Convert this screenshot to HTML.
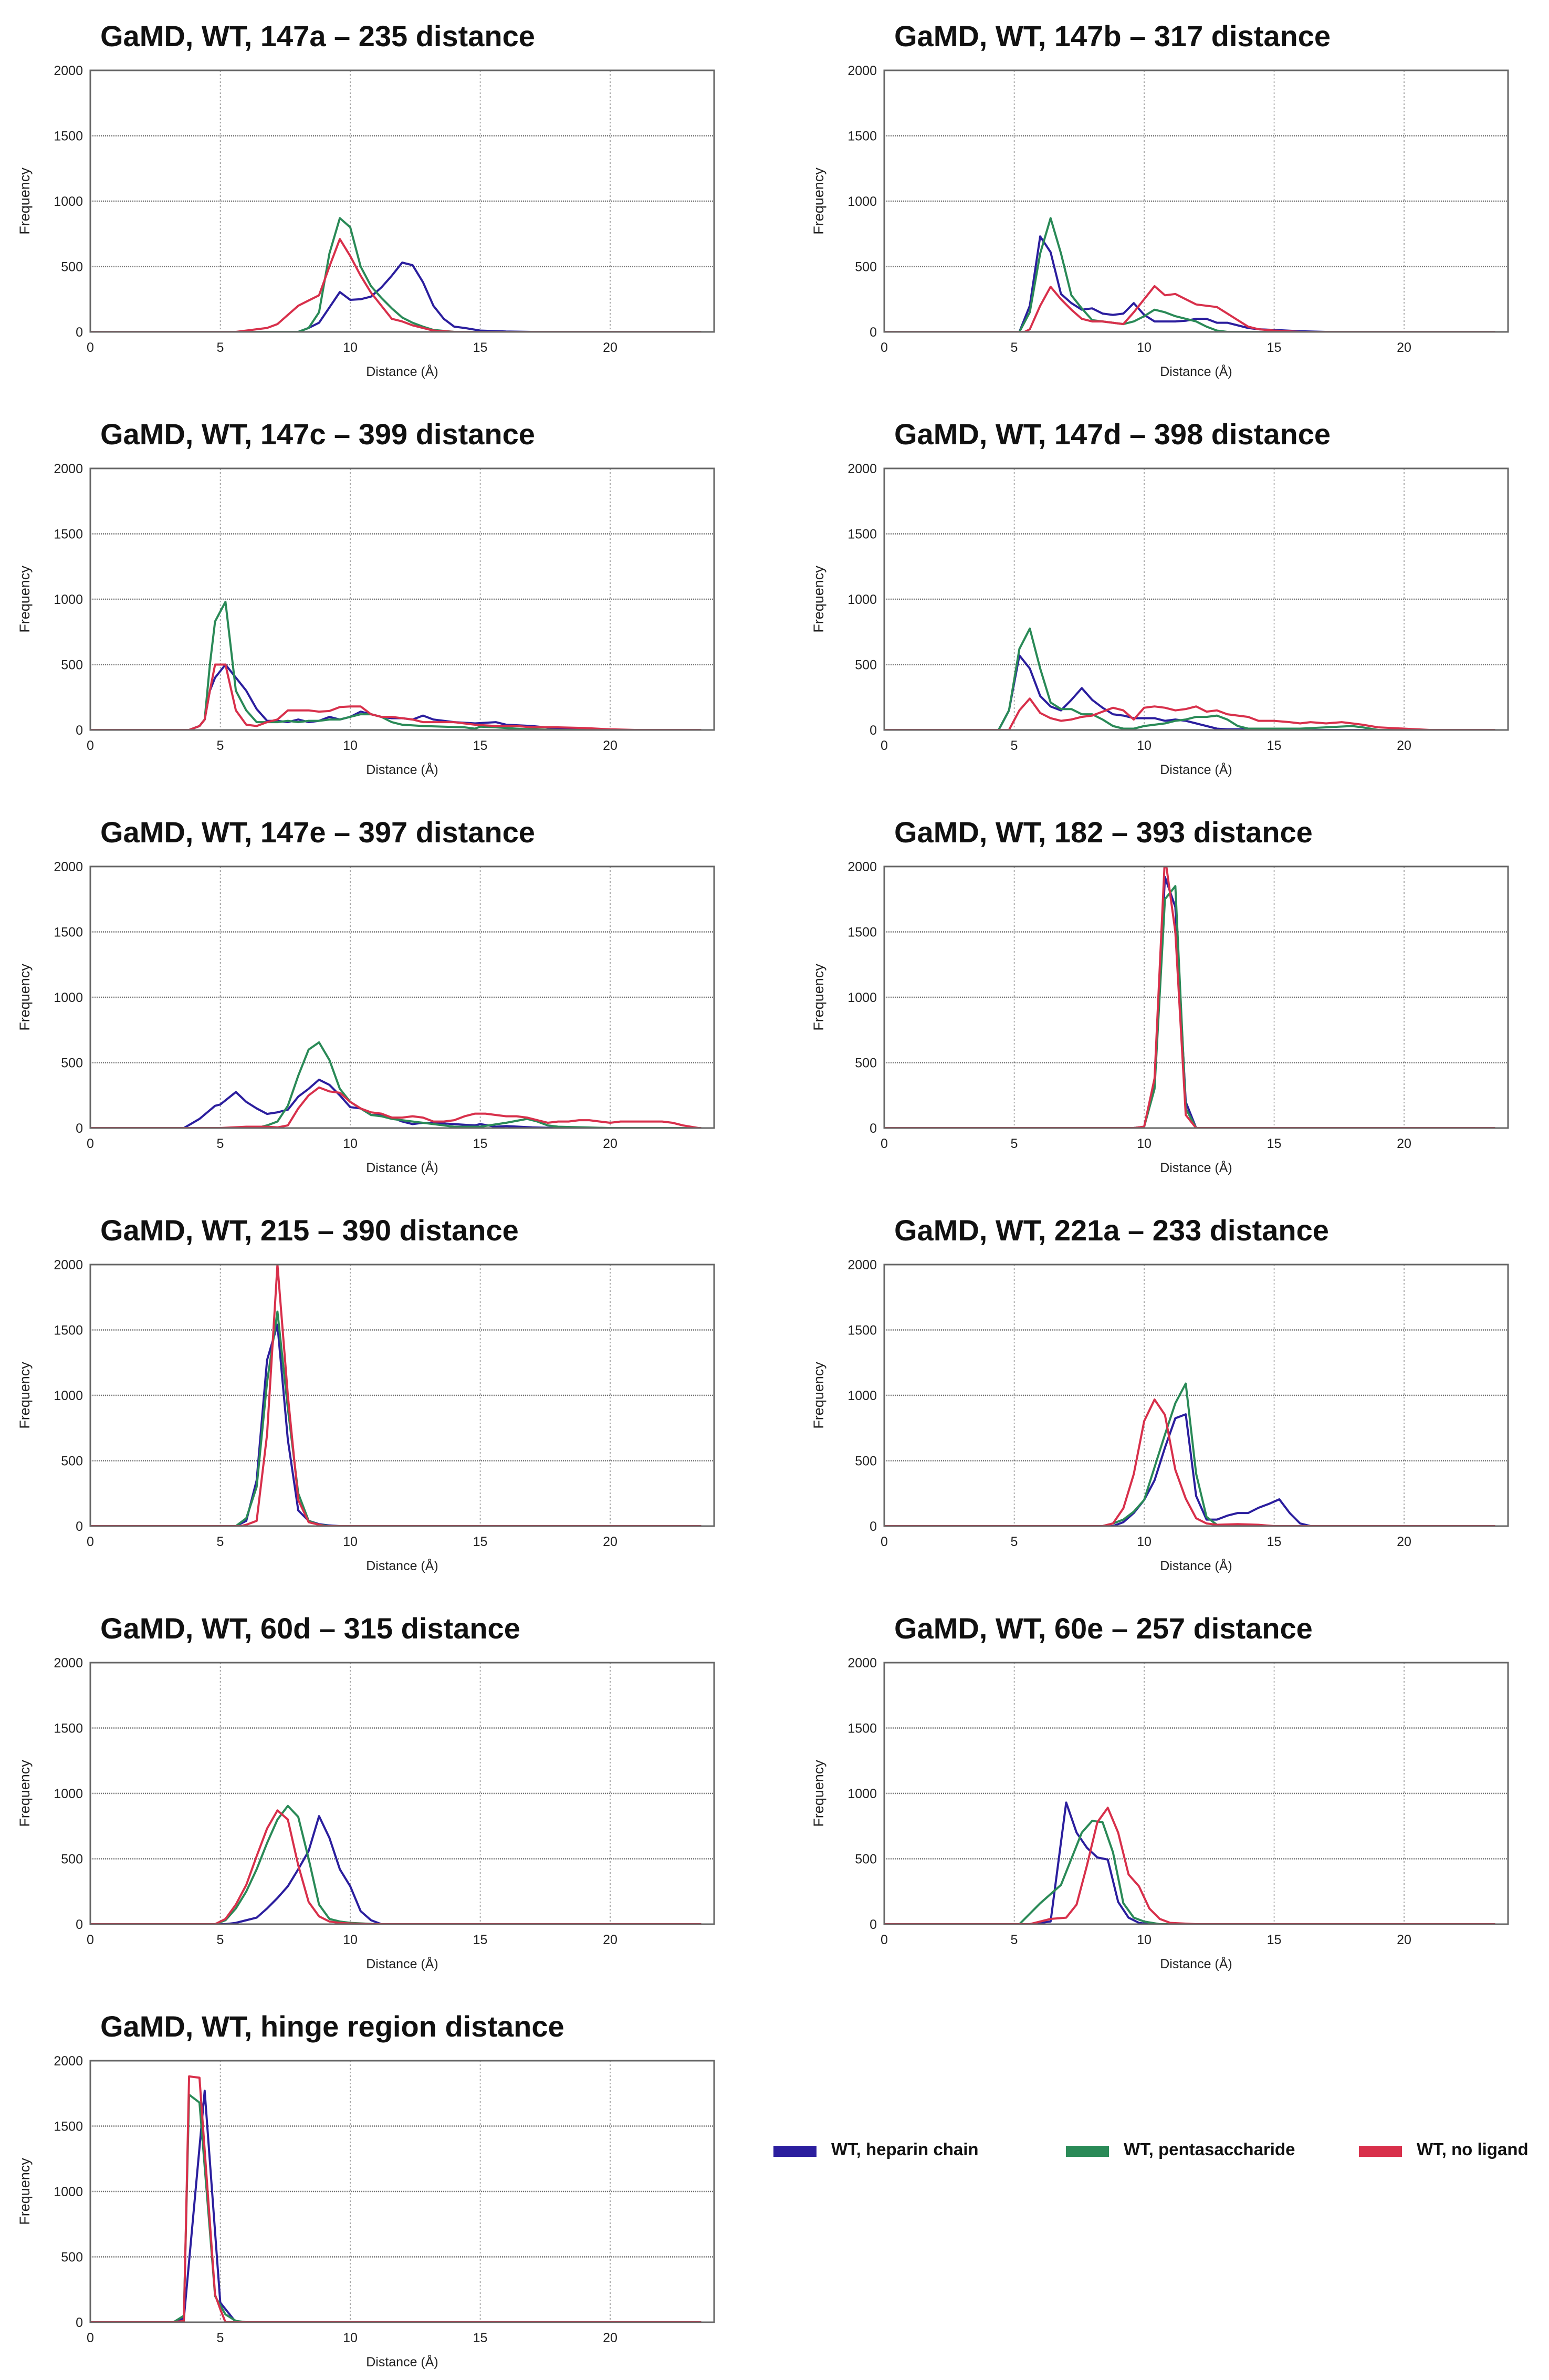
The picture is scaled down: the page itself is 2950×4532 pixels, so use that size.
<!DOCTYPE html>
<html><head><meta charset="utf-8">
<style>
html,body{margin:0;padding:0;background:#fff;}
svg{display:block;}
</style></head>
<body>
<svg id="fig" width="2950" height="4532" viewBox="0 0 2950 4532" xmlns="http://www.w3.org/2000/svg"></svg>
<script>
// ---- data ----
const panelTitles = ["GaMD, WT, 147a \u2013 235 distance","GaMD, WT, 147b \u2013 317 distance","GaMD, WT, 147c \u2013 399 distance","GaMD, WT, 147d \u2013 398 distance","GaMD, WT, 147e \u2013 397 distance","GaMD, WT, 182 \u2013 393 distance","GaMD, WT, 215 \u2013 390 distance","GaMD, WT, 221a \u2013 233 distance","GaMD, WT, 60d \u2013 315 distance","GaMD, WT, 60e \u2013 257 distance","GaMD, WT, hinge region distance"];
const xTicks = [0,5,10,15,20];
const yTicks = [0,500,1000,1500,2000];
const seriesNames = ["WT, heparin chain","WT, pentasaccharide","WT, no ligand"];
const seriesColors = ["#2b1e9e","#2a8a57","#d8304b"];

const p1Hep = [[0,0],[8,0],[8.4,30],[8.8,70],[9.6,305],[10,245],[10.4,250],[10.8,270],[11.2,340],[11.6,430],[12,530],[12.4,510],[12.8,380],[13.2,200],[13.6,100],[14,40],[14.4,30],[15,10],[16,3],[17,0],[23.5,0]];
const p1Pen = [[0,0],[8,0],[8.4,30],[8.8,150],[9.2,600],[9.6,870],[10,800],[10.4,500],[10.8,350],[11.2,260],[11.6,180],[12,110],[12.4,70],[12.8,40],[13.2,15],[14,0],[23.5,0]];
const p1Nol = [[0,0],[5.6,0],[6,10],[6.4,20],[6.8,30],[7.2,60],[7.6,130],[8,200],[8.4,240],[8.8,280],[9.2,500],[9.6,710],[10,580],[10.4,430],[10.8,300],[11.2,200],[11.6,100],[12,80],[12.4,50],[12.8,30],[13.2,10],[14,0],[23.5,0]];

const p2Hep = [[0,0],[5.2,0],[5.6,200],[6,730],[6.4,610],[6.8,290],[7.2,220],[7.6,170],[8,180],[8.4,140],[8.8,130],[9.2,140],[9.6,220],[10,130],[10.4,80],[10.8,80],[11.2,80],[11.6,85],[12,100],[12.4,100],[12.8,70],[13.2,70],[13.6,50],[14,30],[14.4,20],[15,15],[16,5],[17,0],[23.5,0]];
const p2Pen = [[0,0],[5.2,0],[5.6,150],[6,600],[6.4,870],[6.8,600],[7.2,280],[7.6,180],[8,90],[8.4,80],[8.8,70],[9.2,60],[9.6,80],[10,120],[10.4,170],[10.8,150],[11.2,120],[11.6,100],[12,80],[12.4,40],[12.8,10],[13.2,0],[23.5,0]];
const p2Nol = [[0,0],[5.4,0],[5.6,20],[6,200],[6.4,345],[6.8,250],[7.2,170],[7.6,100],[8,80],[8.4,80],[8.8,70],[9.2,60],[9.6,150],[10,250],[10.4,350],[10.8,280],[11.2,290],[11.6,250],[12,210],[12.4,200],[12.8,190],[13.2,140],[13.6,90],[14,40],[14.4,20],[15,10],[16,0],[23.5,0]];

const p3Hep = [[0,0],[3.8,0],[4.2,30],[4.4,80],[4.6,300],[4.8,400],[5.2,500],[5.6,400],[6,300],[6.4,160],[6.8,70],[7.2,70],[7.6,60],[8,80],[8.4,60],[8.8,70],[9.2,100],[9.6,80],[10,100],[10.4,140],[10.8,120],[11.2,100],[11.6,90],[12,90],[12.4,80],[12.8,110],[13.2,80],[14,60],[14.8,50],[15.6,60],[16,40],[17,30],[18,10],[19,5],[20,0],[23.5,0]];
const p3Pen = [[0,0],[3.8,0],[4.2,30],[4.4,80],[4.6,500],[4.8,830],[5.2,980],[5.6,300],[6,150],[6.4,60],[6.8,60],[7.2,60],[7.6,70],[8,60],[8.4,70],[8.8,70],[9.2,80],[9.6,80],[10,100],[10.4,120],[10.8,120],[11.2,100],[11.6,60],[12,40],[12.8,30],[13.6,25],[14.4,20],[14.8,10],[15,25],[15.6,20],[16.4,10],[17,5],[18,0],[23.5,0]];
const p3Nol = [[0,0],[3.8,0],[4.2,30],[4.4,80],[4.6,300],[4.8,500],[5.2,500],[5.6,150],[6,40],[6.4,30],[6.8,60],[7.2,80],[7.6,150],[8,150],[8.4,150],[8.8,140],[9.2,145],[9.6,175],[10,180],[10.4,180],[10.8,120],[11.2,100],[11.6,100],[12,90],[12.4,80],[12.8,60],[13.2,60],[14,60],[14.8,40],[15.6,30],[16.4,30],[17,20],[18,20],[19,15],[20,5],[21,0],[23.5,0]];

const p4Hep = [[0,0],[4.4,0],[4.8,150],[5.2,570],[5.6,470],[6,260],[6.4,180],[6.8,150],[7.2,230],[7.6,320],[8,230],[8.4,170],[8.8,120],[9.2,110],[9.6,90],[10,90],[10.4,90],[10.8,70],[11.2,80],[11.6,70],[12,50],[12.4,30],[12.8,10],[13.2,5],[14,5],[15,0],[23.5,0]];
const p4Pen = [[0,0],[4.4,0],[4.8,150],[5.2,620],[5.6,775],[6,470],[6.4,210],[6.8,160],[7.2,160],[7.6,120],[8,120],[8.4,80],[8.8,30],[9.2,10],[9.6,10],[10,30],[10.4,40],[10.8,50],[11.2,70],[11.6,80],[12,100],[12.4,100],[12.8,110],[13.2,80],[13.6,30],[14,10],[15,10],[16,10],[17,20],[18,30],[18.4,20],[19,0],[23.5,0]];
const p4Nol = [[0,0],[4.8,0],[5.2,150],[5.6,240],[6,130],[6.4,90],[6.8,70],[7.2,80],[7.6,100],[8,110],[8.4,140],[8.8,170],[9.2,150],[9.6,80],[10,170],[10.4,180],[10.8,170],[11.2,150],[11.6,160],[12,180],[12.4,140],[12.8,150],[13.2,120],[13.6,110],[14,100],[14.4,70],[15,70],[15.6,60],[16,50],[16.4,60],[17,50],[17.6,60],[18,50],[18.4,40],[19,20],[20,10],[21,0],[23.5,0]];

const p5Hep = [[0,0],[3.6,0],[4.2,70],[4.8,170],[5,180],[5.6,275],[6,200],[6.4,150],[6.8,108],[7.2,120],[7.6,140],[8,240],[8.4,300],[8.8,370],[9.2,330],[9.6,250],[10,160],[10.4,150],[10.8,100],[11.2,100],[11.6,80],[12,50],[12.4,30],[12.8,40],[13.2,40],[14,30],[14.8,20],[15,30],[15.6,10],[16,15],[17,5],[18,0],[23.5,0]];
const p5Pen = [[0,0],[6.4,0],[6.8,20],[7.2,50],[7.6,170],[8,400],[8.4,600],[8.8,655],[9.2,520],[9.6,300],[10,200],[10.4,150],[10.8,100],[11.2,90],[11.6,70],[12,60],[12.4,50],[12.8,40],[13.2,30],[13.6,20],[14,10],[15,10],[16,40],[16.8,70],[17.2,50],[17.6,20],[18,10],[19,5],[20,0],[23.5,0]];
const p5Nol = [[0,0],[5,0],[6,10],[6.8,10],[7.2,5],[7.6,20],[8,150],[8.4,250],[8.8,310],[9.2,280],[9.6,270],[10,200],[10.4,150],[10.8,120],[11.2,110],[11.6,80],[12,80],[12.4,90],[12.8,80],[13.2,50],[13.6,50],[14,60],[14.4,90],[14.8,110],[15.2,110],[15.6,100],[16,90],[16.4,90],[16.8,80],[17.2,60],[17.6,40],[18,50],[18.4,50],[18.8,60],[19.2,60],[19.6,50],[20,40],[20.4,50],[21,50],[21.6,50],[22,50],[22.4,40],[22.8,20],[23.4,0],[23.5,0]];

const p6Hep = [[0,0],[9.6,0],[10,10],[10.4,350],[10.8,1920],[11.2,1690],[11.6,200],[12,0],[23.5,0]];
const p6Pen = [[0,0],[9.6,0],[10,10],[10.4,300],[10.8,1750],[11.2,1850],[11.6,150],[12,0],[23.5,0]];
const p6Nol = [[0,0],[9.6,0],[10,10],[10.4,380],[10.8,2080],[11.2,1500],[11.6,100],[12,0],[23.5,0]];

const p7Hep = [[0,0],[5.6,0],[6,40],[6.4,350],[6.8,1270],[7.2,1540],[7.6,660],[8,120],[8.4,40],[8.8,15],[9.2,5],[9.6,0],[23.5,0]];
const p7Pen = [[0,0],[5.6,0],[6,60],[6.4,300],[6.8,1100],[7.2,1640],[7.6,900],[8,250],[8.4,40],[8.8,10],[9.2,0],[23.5,0]];
const p7Nol = [[0,0],[5.8,0],[6,10],[6.4,40],[6.8,700],[7.2,2000],[7.6,1000],[8,200],[8.4,30],[9,0],[23.5,0]];

const p8Hep = [[0,0],[8.8,0],[9.2,30],[9.6,100],[10,200],[10.4,350],[10.8,600],[11.2,825],[11.6,855],[12,230],[12.4,50],[12.8,50],[13.2,80],[13.6,100],[14,100],[14.4,140],[14.8,170],[15.2,205],[15.6,100],[16,20],[16.4,0],[23.5,0]];
const p8Pen = [[0,0],[8.4,0],[8.8,20],[9.2,50],[9.6,110],[10,200],[10.4,450],[10.8,700],[11.2,940],[11.6,1090],[12,400],[12.4,70],[12.8,10],[13.2,0],[23.5,0]];
const p8Nol = [[0,0],[8.4,0],[8.8,20],[9.2,136],[9.6,397],[10,803],[10.4,968],[10.8,850],[11.2,430],[11.6,210],[12,60],[12.4,20],[12.8,10],[13.6,15],[14.4,10],[15,0],[23.5,0]];

const p9Hep = [[0,0],[5.2,0],[5.6,10],[6,30],[6.4,50],[6.8,120],[7.2,200],[7.6,290],[8,420],[8.4,560],[8.8,826],[9.2,660],[9.6,420],[10,290],[10.4,100],[10.8,30],[11.2,0],[23.5,0]];
const p9Pen = [[0,0],[4.8,0],[5.2,30],[5.6,120],[6,250],[6.4,420],[6.8,620],[7.2,800],[7.6,905],[8,820],[8.4,500],[8.8,150],[9.2,40],[9.6,20],[10,10],[11,0],[23.5,0]];
const p9Nol = [[0,0],[4.8,0],[5.2,40],[5.6,150],[6,300],[6.4,520],[6.8,731],[7.2,870],[7.6,800],[8,450],[8.4,170],[8.8,60],[9.2,20],[9.6,10],[10,5],[10.8,0],[23.5,0]];

const p10Hep = [[0,0],[5.6,0],[6,10],[6.4,20],[7,930],[7.4,700],[7.8,584],[8.2,510],[8.6,494],[9,170],[9.4,50],[9.8,10],[10.2,0],[23.5,0]];
const p10Pen = [[0,0],[5.2,0],[5.6,80],[6,160],[6.4,230],[6.8,300],[7.2,500],[7.6,700],[8,790],[8.4,780],[8.8,550],[9.2,160],[9.6,50],[10,20],[10.6,0],[23.5,0]];
const p10Nol = [[0,0],[5.6,0],[6,20],[6.4,40],[7,50],[7.4,150],[7.8,450],[8.2,780],[8.6,890],[9,700],[9.4,380],[9.8,290],[10.2,120],[10.6,40],[11,10],[12,0],[23.5,0]];

const p11Hep = [[0,0],[3.2,0],[3.6,30],[4.4,1770],[5,150],[5.6,0],[23.5,0]];
const p11Pen = [[0,0],[3.2,0],[3.6,50],[3.8,1740],[4.2,1680],[4.6,700],[4.8,200],[5.2,60],[5.6,10],[6,0],[23.5,0]];
const p11Nol = [[0,0],[3.2,0],[3.6,10],[3.8,1880],[4.2,1870],[4.8,210],[5,100],[5.2,0],[23.5,0]];

const panelSeries = [[p1Hep,p1Pen,p1Nol],[p2Hep,p2Pen,p2Nol],[p3Hep,p3Pen,p3Nol],[p4Hep,p4Pen,p4Nol],[p5Hep,p5Pen,p5Nol],[p6Hep,p6Pen,p6Nol],[p7Hep,p7Pen,p7Nol],[p8Hep,p8Pen,p8Nol],[p9Hep,p9Pen,p9Nol],[p10Hep,p10Pen,p10Nol],[p11Hep,p11Pen,p11Nol]];

// ---- layout ----
const NS = "http://www.w3.org/2000/svg";
const svg = document.getElementById('fig');
const colLeft = [172, 1684];
const rowTop = [134, 892, 1650, 2408, 3166, 3924];
const PW = 1188, PH = 498, XMAX = 24, YMAX = 2000;
const seriesKeys = ['heparin','pentasaccharide','no-ligand'];

function mk(tag, attrs, parent){
  const e = document.createElementNS(NS, tag);
  for (const k in attrs) e.setAttribute(k, attrs[k]);
  (parent||svg).appendChild(e);
  return e;
}

panelTitles.forEach((title, i) => {
  const L = colLeft[i % 2], T = rowTop[Math.floor(i / 2)];
  const sx = v => L + v / XMAX * PW;
  const sy = v => T + PH - v / YMAX * PH;
  const g = mk('g', {});
  
  

  const t = mk('text', {x: L + 19, y: T - 46, 'font-family': 'Liberation Sans, sans-serif', 'font-weight': 'bold', 'font-size': 56, fill: '#111'}, g);
  t.textContent = title;
  
  

  const clipId = 'clip' + i;
  const cp = mk('clipPath', {id: clipId}, g);
  mk('rect', {x: L, y: T, width: PW, height: PH}, cp);

  xTicks.forEach(v => {
    if (v > 0) {
      const gl = mk('line', {x1: sx(v), x2: sx(v), y1: T, y2: T + PH, stroke: '#888', 'stroke-width': 1.5, 'stroke-dasharray': '3,4'}, g);
      
      
    }
    const tl = mk('text', {x: sx(v), y: T + PH + 38, 'text-anchor': 'middle', 'font-family': 'Liberation Sans, sans-serif', 'font-size': 25, fill: '#222'}, g);
    tl.textContent = v;
    
    
  });
  yTicks.forEach(v => {
    if (v > 0 && v < YMAX) {
      const gl = mk('line', {x1: L, x2: L + PW, y1: sy(v), y2: sy(v), stroke: '#777', 'stroke-width': 2.5, 'stroke-dasharray': '2,2'}, g);
      
      
    }
    const tl = mk('text', {x: L - 14, y: sy(v) + 9, 'text-anchor': 'end', 'font-family': 'Liberation Sans, sans-serif', 'font-size': 25, fill: '#222'}, g);
    tl.textContent = v;
    
    
  });

  panelSeries[i].forEach((pts, s) => {
    const d = pts.map((p, k) => (k ? 'L' : 'M') + sx(p[0]).toFixed(1) + ',' + sy(p[1]).toFixed(1)).join('');
    const path = mk('path', {d: d, fill: 'none', stroke: seriesColors[s], 'stroke-width': 4, 'stroke-linejoin': 'round', 'clip-path': 'url(#' + clipId + ')'}, g);
    
    
  });

  const fr = mk('rect', {x: L, y: T, width: PW, height: PH, fill: 'none', stroke: '#666', 'stroke-width': 3}, g);
  
  

  const xl = mk('text', {x: L + PW / 2, y: T + PH + 84, 'text-anchor': 'middle', 'font-family': 'Liberation Sans, sans-serif', 'font-size': 25, fill: '#222'}, g);
  xl.textContent = 'Distance (\u00c5)';
  
  

  const yl = mk('text', {x: 0, y: 0, transform: 'translate(' + (L - 116) + ',' + (T + PH / 2) + ') rotate(-90)', 'text-anchor': 'middle', 'font-family': 'Liberation Sans, sans-serif', 'font-size': 27, fill: '#222'}, g);
  yl.textContent = 'Frequency';
  
  
});

// ---- legend ----
const legendX = [1473, 2030, 2588];
const lg = mk('g', {});


seriesNames.forEach((name, s) => {
  const sw = mk('rect', {x: legendX[s], y: 4086, width: 82, height: 21, fill: seriesColors[s]}, lg);
  
  
  const tx = mk('text', {x: legendX[s] + 110, y: 4104, 'font-family': 'Liberation Sans, sans-serif', 'font-weight': 'bold', 'font-size': 33, fill: '#111'}, lg);
  tx.textContent = name;
  
  
});
</script>
</body></html>
